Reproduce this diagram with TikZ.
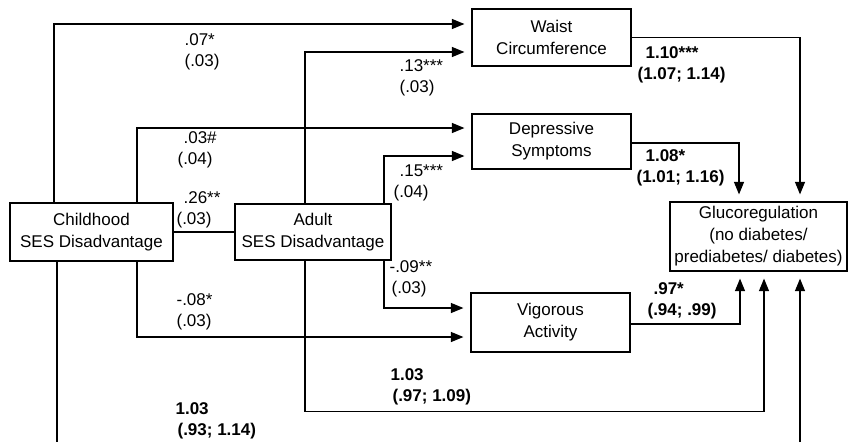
\documentclass[tikz,border=0pt]{standalone}
\usepackage{fontspec}
\setmainfont{Liberation Sans}
\usepackage{tikz}
\usetikzlibrary{arrows.meta}

\begin{document}
\begin{tikzpicture}[x=1pt, y=-1pt, line width=1.2pt,
       bx/.style={draw, inner sep=0pt, align=center,
         font=\fontsize{17}{22}\selectfont},
       lb/.style={anchor=west, inner sep=0pt, align=left,
         font=\fontsize{17}{21}\selectfont},
       bl/.style={lb, font=\fontsize{17}{21}\selectfont\bfseries},
       ->/.style={-{Triangle[length=12.5pt, width=10pt]}, shorten >=7pt}]
     \useasboundingbox (0,0) rectangle (850,442);
     % boxes
     \node[bx, minimum width=163, minimum height=58] (child) at (91.5,232) {Childhood\\SES Disadvantage};
     \node[bx, minimum width=156, minimum height=56] (adult) at (313,232) {Adult\\SES Disadvantage};
     \node[bx, minimum width=159, minimum height=57] (waist) at (551.5,37.5) {Waist\\Circumference};
     \node[bx, minimum width=159, minimum height=55] (depr) at (551.5,141.5) {Depressive\\Symptoms};
     \node[bx, minimum width=159, minimum height=59] (vig) at (550.5,322.5) {Vigorous\\Activity};
     \node[bx, minimum width=177, minimum height=69] (gluco) at (758.5,236.5) {Glucoregulation\\(no diabetes/\\prediabetes/ diabetes)};
     \coordinate (cb) at (57,442);
     \coordinate (gb) at (800,442);
     % paths
     \draw [->] ([xshift=-37.5]child.north) |- ([yshift=13.5]waist.west);
     \draw [->] ([xshift=-8]adult.north) |- ([yshift=-14.5]waist.west);
     \draw [->] ([xshift=45.5]child.north) |- ([yshift=13.5]depr.west);
     \draw [->] ([xshift=71]adult.north) |- ([yshift=-14.5]depr.west);
     \draw [->] ([xshift=71]adult.south) |- ([yshift=14.5]vig.west);
     \draw [->] ([xshift=45.5]child.south) |- ([yshift=-14.5]vig.west);
     \draw (child.east) -- (adult.west);
     \draw [->] (waist.east) -| ([xshift=41.5]gluco.north);
     \draw [->] ([yshift=-1.5]depr.east) -| ([xshift=-19.5]gluco.north);
     \draw [->] ([yshift=-1.5]vig.east) -| ([xshift=-18.5]gluco.south);
     \draw [->] ([xshift=-8]adult.south) -- ++(0,151) -| ([xshift=5.5]gluco.south);
     \draw ([xshift=-34.5]child.south) -- (cb);
     \draw [->] (gb) -- ([xshift=41.5]gluco.south);
     % estimates
     \node[lb] (e1) at (184,52) {.07*\\(.03)};
     \node[lb] (e2) at (399,78) {.13***\\(.03)};
     \node[lb] (e3) at (177,150) {\hspace*{6pt}.03\#\\(.04)};
     \node[lb] (e4) at (176,210) {\hspace*{7pt}.26**\\(.03)};
     \node[lb] (e5) at (393,183) {\hspace*{6pt}.15***\\(.04)};
     \node[lb] (e6) at (389,279) {-.09**\\\hspace*{2pt}(.03)};
     \node[lb] (e7) at (176,312) {-.08*\\(.03)};
     \node[bl] (o1) at (390,387) {1.03\\\hspace*{2pt}(.97; 1.09)};
     \node[bl] (o2) at (175,421) {1.03\\\hspace*{2pt}(.93; 1.14)};
     \node[bl] (o3) at (637,65) {\hspace*{8pt}1.10***\\(1.07; 1.14)};
     \node[bl] (o4) at (636,168) {\hspace*{9pt}1.08*\\(1.01; 1.16)};
     \node[bl] (o5) at (647,301) {\hspace*{6pt}.97*\\(.94; .99)};
   \end{tikzpicture}
\end{document}
